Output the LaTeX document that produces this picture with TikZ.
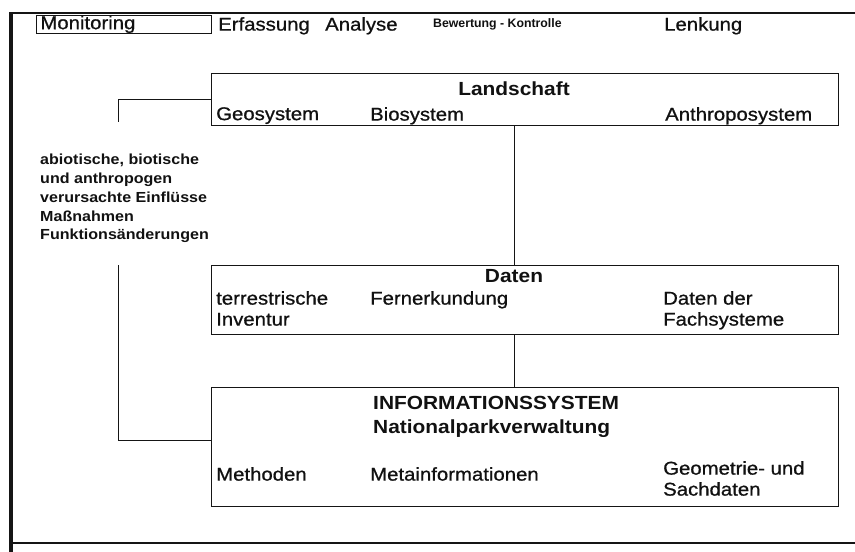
\documentclass[tikz,border=0pt]{standalone}
\usepackage{fontspec}
\setmainfont{Liberation Sans}[FakeStretch=1.1, UprightFeatures={FakeBold=0.8}]
\newfontfamily\narrowfont{Liberation Sans}
\definecolor{border}{HTML}{151515}
\definecolor{textCol}{HTML}{111111}
\tikzset{
  bigbox/.style={
    rectangle, draw=border, line width=1pt,
    minimum width=627pt, inner sep=0pt,
  },
  item/.style={
    inner sep=0pt, anchor=north west, align=left, text=textCol,
    font=\fontsize{18.5}{21}\selectfont,
  },
  head/.style={
    inner sep=0pt, anchor=north, text=textCol,
    font=\fontsize{19}{24}\selectfont\bfseries,
  },
  link/.style={draw=border, line width=1pt},
}
\begin{document}
\begin{tikzpicture}[x=1pt, y=-1pt]

  \useasboundingbox (0,0) rectangle (855,552);

  % Outer frame
  \draw[border, line width=3.5pt] (11,12) -- (11,552);
  \draw[border, line width=2pt] (10,13) -- (855,13);
  \draw[border, line width=2pt] (13,543) -- (855,543);

  % Header row
  \node[item, draw=border, line width=0.8pt, minimum width=175pt, minimum height=18pt, inner xsep=4pt, text width=167pt] (mon) at (36,15) {Monitoring};
  \node[item] (erf) at (218,17) {Erfassung};
  \node[item] (ana) at (325,17) {Analyse};
  \node[item, font=\narrowfont\fontsize{12.3}{14}\selectfont\bfseries] (bew) at (433,18) {Bewertung - Kontrolle};
  \node[item] (lenk) at (664,17) {Lenkung};

  % Landschaft
  \node[bigbox, minimum height=52pt] (land) at (524.5,99) {};
  \node[head] (landT) at (514,82) {Landschaft};
  \node[item] (geo) at (216,107) {Geosystem};
  \node[item] (bio) at (370,107) {Biosystem};
  \node[item] (anthro) at (665,107) {Anthroposystem};

  % Daten
  \node[bigbox, minimum height=69pt] (daten) at (524.5,299.5) {};
  \node[head] (datenT) at (514,269) {Daten};
  \node[item] (terr) at (216,291) {terrestrische\\Inventur};
  \node[item] (fern) at (370,291) {Fernerkundung};
  \node[item] (fach) at (663,291) {Daten der\\Fachsysteme};

  % Informationssystem
  \node[bigbox, minimum height=119pt] (info) at (524.5,446.5) {};
  \node[item, font=\fontsize{19}{24}\selectfont\bfseries] (infoT) at (373,396) {INFORMATIONSSYSTEM\\Nationalparkverwaltung};
  \node[item] (meth) at (216,467) {Methoden};
  \node[item] (meta) at (370,467) {Metainformationen};
  \node[item] (geom) at (663,461) {Geometrie- und\\Sachdaten};

  % Einfluesse
  \node[item, font=\fontsize{14.6}{18.75}\selectfont\bfseries] (einfl) at (40,154) {abiotische, biotische\\und anthropogen\\verursachte Einflüsse\\Maßnahmen\\Funktionsänderungen};

  % Connectors
  \coordinate (gapTop) at (118,122);
  \coordinate (gapBot) at (118,265);
  \draw[link] (land.west) -| (gapTop);
  \draw[link] (gapBot) |- ([yshift=6pt]info.west);
  \draw[link] (landT |- land.south) -- (landT |- daten.north);
  \draw[link] (datenT |- daten.south) -- (datenT |- info.north);

\end{tikzpicture}
\end{document}
